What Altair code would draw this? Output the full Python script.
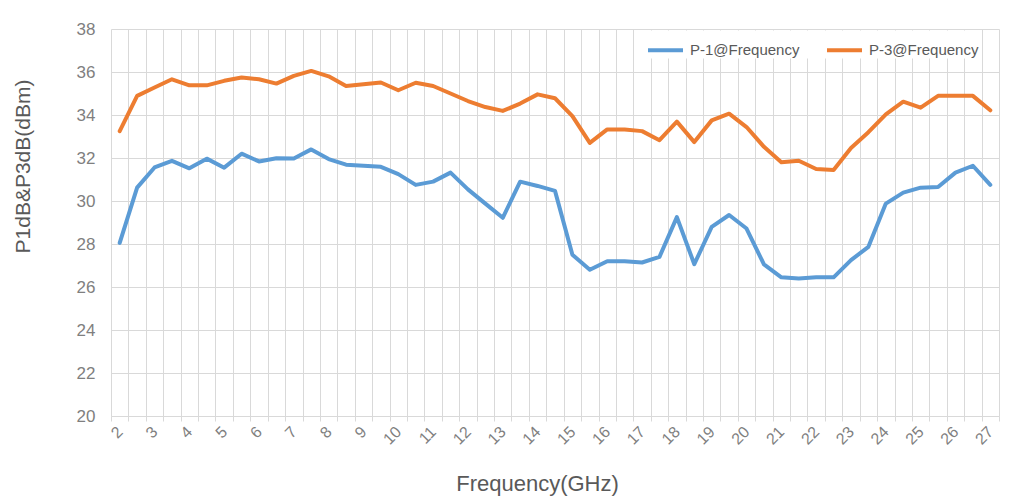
import altair as alt
import pandas as pd

freq_ghz = [2.0, 2.5, 3.0, 3.5, 4.0, 4.5, 5.0, 5.5, 6.0, 6.5, 7.0, 7.5, 8.0, 8.5, 9.0, 9.5,
            10.0, 10.5, 11.0, 11.5, 12.0, 12.5, 13.0, 13.5, 14.0, 14.5, 15.0, 15.5, 16.0, 16.5,
            17.0, 17.5, 18.0, 18.5, 19.0, 19.5, 20.0, 20.5, 21.0, 21.5, 22.0, 22.5, 23.0, 23.5,
            24.0, 24.5, 25.0, 25.5, 26.0, 26.5, 27.0]

p1_dbm = [28.05, 30.62, 31.56, 31.87, 31.52, 31.97, 31.55, 32.2, 31.84, 31.99, 31.98, 32.4,
          31.95, 31.69, 31.64, 31.59, 31.25, 30.75, 30.9, 31.32, 30.54, 29.88, 29.22, 30.9,
          30.7, 30.47, 27.5, 26.8, 27.2, 27.2, 27.14, 27.4, 29.25, 27.06, 28.8, 29.35, 28.72,
          27.05, 26.45, 26.4, 26.45, 26.45, 27.25, 27.87, 29.88, 30.39, 30.62, 30.65, 31.32,
          31.64, 30.75]

p3_dbm = [33.25, 34.89, 35.28, 35.66, 35.38, 35.38, 35.59, 35.74, 35.66, 35.46, 35.82, 36.05,
          35.8, 35.35, 35.43, 35.51, 35.15, 35.5, 35.35, 35.0, 34.65, 34.37, 34.19, 34.53,
          34.96, 34.78, 33.95, 32.7, 33.33, 33.33, 33.25, 32.83, 33.69, 32.74, 33.75, 34.06,
          33.44, 32.52, 31.8, 31.87, 31.49, 31.44, 32.47, 33.2, 34.03, 34.62, 34.34, 34.89,
          34.89, 34.89, 34.22]

series_names = ["P-1@Frequency", "P-3@Frequency"]
series_colors = ["#5B9BD5", "#ED7D31"]
y_ticks = [20, 22, 24, 26, 28, 30, 32, 34, 36, 38]

rows = []
for f, a, b in zip(freq_ghz, p1_dbm, p3_dbm):
    rows.append({"freq": f, "value": a, "series": series_names[0]})
    rows.append({"freq": f, "value": b, "series": series_names[1]})
df = pd.DataFrame(rows)

half = 0.25
bounds = [f - half for f in freq_ghz] + [freq_ghz[-1] + half]
W, H = 888, 387
label_shift = half * W / (bounds[-1] - bounds[0])

grid_color = "#d9d9d9"
font = "Liberation Sans"

chart = alt.Chart(df).mark_line(strokeWidth=4, strokeJoin="round", strokeCap="round").encode(
    x=alt.X(
        "freq:Q",
        scale=alt.Scale(domain=[bounds[0], bounds[-1]], nice=False, zero=False),
        axis=alt.Axis(
            values=bounds, grid=True, gridColor=grid_color, gridWidth=1,
            ticks=True, tickColor=grid_color, tickSize=5,
            domain=True, domainColor=grid_color,
            labelExpr="(datum.value + 0.25) % 1 == 0 ? format(datum.value + 0.25, 'd') : ''",
            labelOffset=label_shift, labelAngle=-45, labelAlign="right", labelBaseline="middle",
            labelPadding=8, labelOverlap=False, labelFlush=False,
            labelFont=font, labelFontSize=16, labelColor="#7f7f7f",
            title="Frequency(GHz)", titleFont=font, titleFontSize=22, titleColor="#595959",
            titleFontWeight="normal", titleX=426, titleY=67, titleBaseline="middle",
            titleAlign="center",
        ),
    ),
    y=alt.Y(
        "value:Q",
        scale=alt.Scale(domain=[20, 38], nice=False, zero=False),
        axis=alt.Axis(
            values=y_ticks, grid=True, gridColor=grid_color, gridWidth=1,
            ticks=False, domain=False, labelPadding=16,
            labelFont=font, labelFontSize=17, labelColor="#7f7f7f",
            title="P1dB&P3dB(dBm)", titleFont=font, titleFontSize=21, titleColor="#595959",
            titleFontWeight="normal", titleAngle=-90, titleX=-88, titleY=137,
            titleBaseline="middle", titleAlign="center",
        ),
    ),
    color=alt.Color(
        "series:N",
        scale=alt.Scale(domain=series_names, range=series_colors),
        legend=alt.Legend(
            title=None, orient="none", legendX=535, legendY=1.5, direction="horizontal",
            symbolType="stroke", symbolSize=1225, symbolStrokeWidth=4,
            labelFont=font, labelFontSize=15, labelColor="#595959", labelOffset=5,
            columnPadding=19, fillColor="white", padding=0,
        ),
    ),
).properties(
    width=W, height=H,
    padding={"left": 103, "top": 21, "right": 15, "bottom": 82},
    autosize=alt.AutoSizeParams(type="none"),
).configure_view(stroke=None)

chart.save("out.html", embed_options={"renderer": "svg", "actions": False})
